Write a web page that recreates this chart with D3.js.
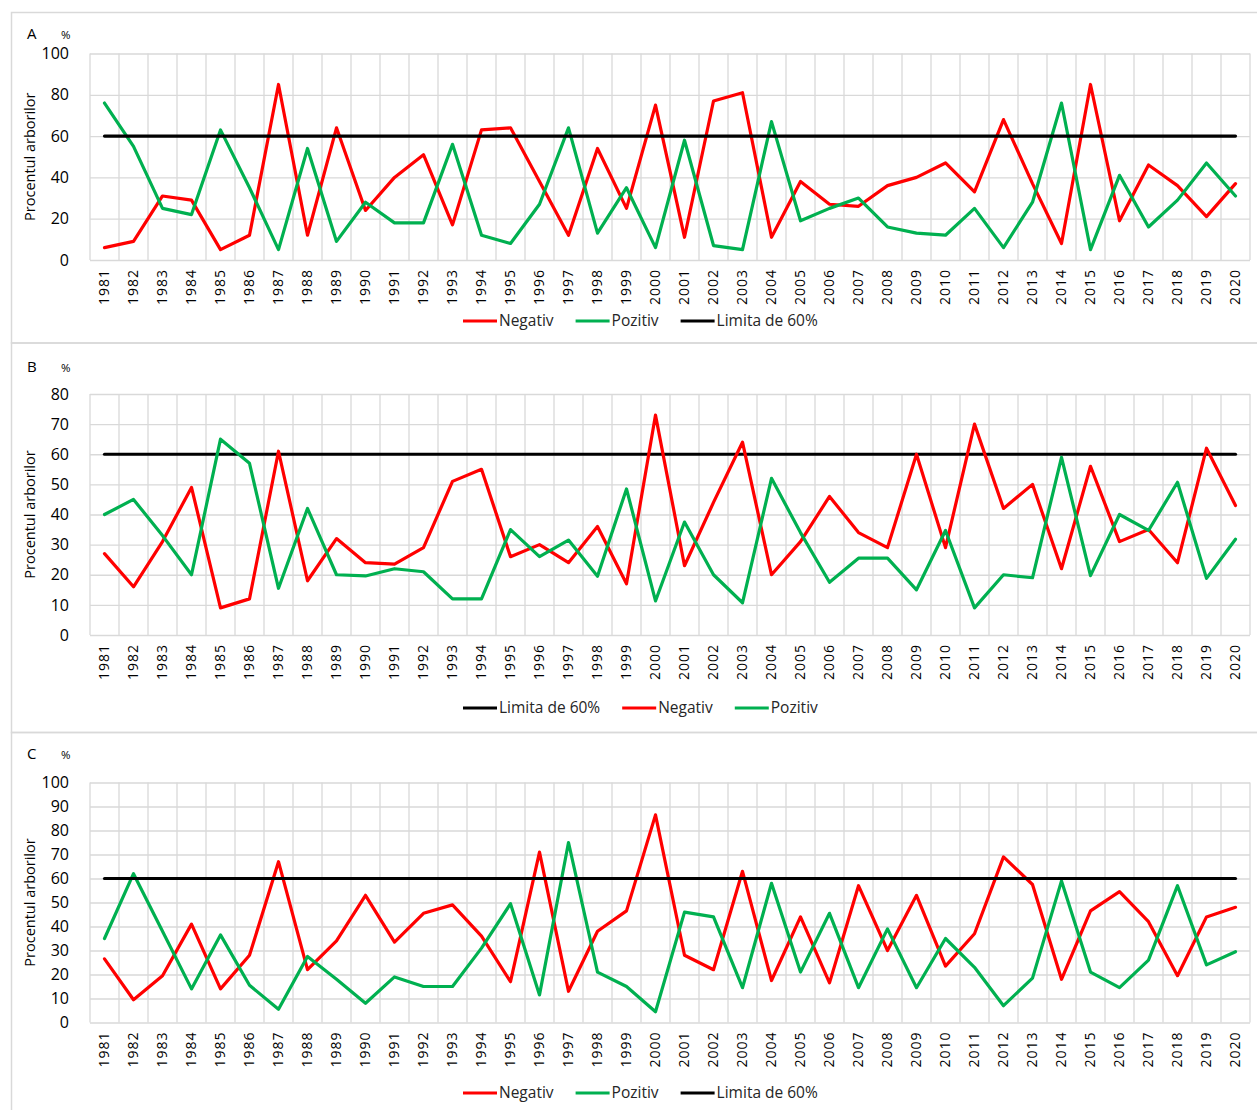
<!DOCTYPE html>
<html>
<head>
<meta charset="utf-8">
<script src="https://cdn.jsdelivr.net/npm/d3@7/dist/d3.min.js"></script>
<style>
body { margin: 0; background: #fff; }
text { font-family: "Open Sans", "Noto Sans", sans-serif; fill: #000; }
</style>
</head>
<body>
<div id="container"></div>
<script>
// categories
const years = [1981,1982,1983,1984,1985,1986,1987,1988,1989,1990,
               1991,1992,1993,1994,1995,1996,1997,1998,1999,2000,
               2001,2002,2003,2004,2005,2006,2007,2008,2009,2010,
               2011,2012,2013,2014,2015,2016,2017,2018,2019,2020];

// panel A
const negA = [6,9,31,29,5,12,85,12,64,24, 40,51,17,63,64,38,12,54,25,75,
              11,77,81,11,38,27,26,36,40,47, 33,68,37,8,85,19,46,36,21,37];
const pozA = [76,55,25,22,63,35,5,54,9,28, 18,18,56,12,8,27,64,13,35,6,
              58,7,5,67,19,25,30,16,13,12, 25,6,28,76,5,41,16,29,47,31];
const ticksA = [0,20,40,60,80,100];

// panel B
const negB = [27,16,31,49,9,12,61,18,32,24, 23.5,29,51,55,26,30,24,36,17,73,
              23,44,64,20,31,46,34,29,60,29, 70,42,50,22,56,31,35,24,62,43];
const pozB = [40,45,33,20,65,57,15.5,42,20,19.6, 22,21,12,12,35,26,31.5,19.5,48.5,11.3,
              37.5,20,10.7,52,34,17.5,25.5,25.5,15,34.7, 9,20,19,59,19.7,40,34.7,50.7,18.8,31.8];
const ticksB = [0,10,20,30,40,50,60,70,80];

// panel C
const negC = [26.5,9.5,19.5,41,14,28,67,22,34,53, 33.5,45.5,49,36,17,71,13,38,46.5,86.5,
              28,22,63,17.5,44,16.5,57,30,53,23.5, 37,69,57.5,18,46.5,54.5,42,19.5,44,48];
const pozC = [35,62,38,14,36.5,15.5,5.5,27.5,18,8, 19,15,15,31,49.5,11.5,75,21,15,4.5,
              46,44,14.5,58,21,45.5,14.5,39,14.5,35, 23,7,18.5,59,21,14.5,26,57,24,29.5];
const ticksC = [0,10,20,30,40,50,60,70,80,90,100];

const limit = 60;

const names = {neg: "Negativ", poz: "Pozitiv", lim: "Limita de 60%"};
const colors = {neg: "#ff0000", poz: "#00b050", lim: "#000000"};

const w = 1257;
const h = 1110;
const left = 90;
const right = 1250;

const panels = [
  {label: "A", neg: negA, poz: pozA, ticks: ticksA, top: 53.5, bottom: 260,
   boxTop: 12.5, boxBottom: 343, labelY: 39, legendY: 321, order: ["neg","poz","lim"]},
  {label: "B", neg: negB, poz: pozB, ticks: ticksB, top: 394, bottom: 635,
   boxTop: 343, boxBottom: 732.5, labelY: 372, legendY: 708, order: ["lim","neg","poz"]},
  {label: "C", neg: negC, poz: pozC, ticks: ticksC, top: 782.5, bottom: 1022.5,
   boxTop: 732.5, boxBottom: 1140, labelY: 759, legendY: 1093, order: ["neg","poz","lim"]}
];

var svg = d3.select("#container")
            .append("svg")
            .attr("width", w)
            .attr("height", h);

panels.forEach(function(p) {
  const xScale = d3.scaleBand().domain(years).range([left, right]);
  const yScale = d3.scaleLinear().domain([0, d3.max(p.ticks)]).range([p.bottom, p.top]);
  const g = svg.append("g");

  // chart area frame
  g.append("rect")
   .attr("x", 11.5)
   .attr("y", p.boxTop)
   .attr("width", w)
   .attr("height", p.boxBottom - p.boxTop)
   .attr("fill", "none")
   .attr("stroke", "#d9d9d9")
   .attr("stroke-width", 1.5);

  // horizontal grid
  g.append("g")
   .attr("transform", "translate(" + left + ",0)")
   .call(d3.axisLeft(yScale).tickValues(p.ticks).tickSize(-(right - left)).tickFormat(""))
   .call(a => a.select(".domain").remove())
   .selectAll("line")
   .attr("stroke", "#d9d9d9")
   .attr("stroke-width", 1.3);

  // vertical grid at category boundaries
  const edges = years.map(d => xScale(d)).concat([xScale.range()[1]]);
  g.selectAll(".vgrid")
   .data(edges)
   .enter()
   .append("line")
   .attr("x1", d => d)
   .attr("x2", d => d)
   .attr("y1", p.top)
   .attr("y2", p.bottom)
   .attr("stroke", "#d9d9d9")
   .attr("stroke-width", 1.3);

  // y tick labels
  g.append("g")
   .attr("transform", "translate(" + left + ",0)")
   .call(d3.axisLeft(yScale).tickValues(p.ticks).tickSize(0).tickPadding(21))
   .call(a => a.select(".domain").remove())
   .selectAll("text")
   .style("font-size", "16px")
   .style("font-family", "\"Open Sans\", sans-serif");

  // x tick labels (rotated)
  g.append("g")
   .attr("transform", "translate(0," + p.bottom + ")")
   .call(d3.axisBottom(xScale).tickSize(0))
   .call(a => a.select(".domain").remove())
   .selectAll("text")
   .attr("transform", "rotate(-90)")
   .attr("x", -9)
   .attr("y", 0)
   .attr("dy", "0.35em")
   .style("text-anchor", "end")
   .style("font-size", "14px")
   .style("letter-spacing", "1px")
   .style("font-family", "\"Open Sans\", sans-serif");

  // panel letter and unit
  g.append("text").attr("x", 27).attr("y", p.labelY).style("font-size", "15px").text(p.label);
  g.append("text").attr("x", 61).attr("y", p.labelY).style("font-size", "11.5px").text("%");

  // y axis title
  g.append("text")
   .attr("transform", "translate(35," + (p.top + p.bottom) / 2 + ") rotate(-90)")
   .style("text-anchor", "middle")
   .style("font-size", "14.5px")
   .text("Procentul arborilor");

  const cx = (d, i) => xScale(years[i]) + xScale.bandwidth() / 2;
  const line = d3.line().x(cx).y(d => yScale(d));

  p.order.forEach(function(k) {
    if (k === "lim") {
      g.append("line")
       .attr("x1", xScale(years[0]) + xScale.bandwidth() / 2)
       .attr("x2", xScale(years[years.length - 1]) + xScale.bandwidth() / 2)
       .attr("y1", yScale(limit))
       .attr("y2", yScale(limit))
       .attr("stroke", colors.lim)
       .attr("stroke-width", 3.2)
       .attr("stroke-linecap", "round");
    } else {
      g.append("path")
       .datum(p[k])
       .attr("d", line)
       .attr("fill", "none")
       .attr("stroke", colors[k])
       .attr("stroke-width", 3.2)
       .attr("stroke-linejoin", "round")
       .attr("stroke-linecap", "round");
    }
  });

  // legend
  var lx = 463;
  p.order.forEach(function(k) {
    g.append("line")
     .attr("x1", lx).attr("x2", lx + 34)
     .attr("y1", p.legendY).attr("y2", p.legendY)
     .attr("stroke", colors[k])
     .attr("stroke-width", 3.2);
    const t = g.append("text")
     .attr("x", lx + 36)
     .attr("y", p.legendY)
     .attr("dy", "0.35em")
     .style("font-size", "15.5px")
     .style("fill", "#262626")
     .text(names[k]);
    lx = lx + 36 + t.node().getComputedTextLength() + 22;
  });
});
</script>
</body>
</html>
